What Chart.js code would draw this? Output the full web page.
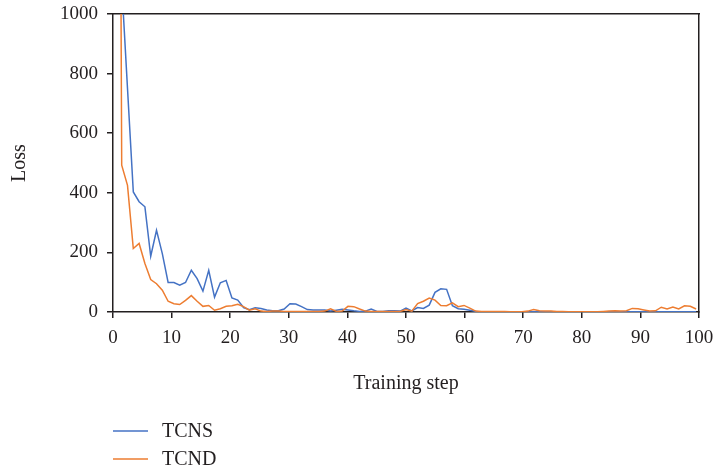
<!DOCTYPE html>
<html>
<head>
<meta charset="utf-8">
<script src="https://cdn.jsdelivr.net/npm/chart.js@4/dist/chart.umd.min.js"></script>
<style>
  html, body { margin: 0; padding: 0; background: #fff; }
  #chart { display: block; }
</style>
</head>
<body>
<canvas id="chart" width="714" height="471"></canvas>
<script>
// training steps (one point per step)
const steps = [
  0, 1, 2, 3, 4, 5, 6, 7, 8, 9,
  10, 11, 12, 13, 14, 15, 16, 17, 18, 19,
  20, 21, 22, 23, 24, 25, 26, 27, 28, 29,
  30, 31, 32, 33, 34, 35, 36, 37, 38, 39,
  40, 41, 42, 43, 44, 45, 46, 47, 48, 49,
  50, 51, 52, 53, 54, 55, 56, 57, 58, 59,
  60, 61, 62, 63, 64, 65, 66, 67, 68, 69,
  70, 71, 72, 73, 74, 75, 76, 77, 78, 79,
  80, 81, 82, 83, 84, 85, 86, 87, 88, 89,
  90, 91, 92, 93, 94, 95, 96, 97, 98, 99,
  100
];

const tcns = [
  1500, 1100, 750, 403, 370, 353, 187, 274, 196, 99,
  99, 90, 99, 140, 112, 70, 140, 50, 98, 106,
  47, 40, 15, 8, 14, 12, 7, 4, 4, 10,
  28, 27, 18, 8, 7, 7, 7, 3, 6, 9,
  7, 4, 2, 3, 10, 2, 2, 4, 4, 3,
  13, 4, 15, 12, 23, 66, 78, 76, 21, 11,
  9, 6, 2, 1, 1, 1, 1, 1, 1, 1,
  1, 1, 1, 1, 1, 1, 1, 1, 1, 1,
  1, 1, 1, 1, 1, 1, 1, 1, 1, 1,
  1, 1, 1, 1, 1, 1, 1, 1, 1, 1,
  1
];

const tcnd = [
  5000, 493, 425, 213, 230, 163, 109, 95, 73, 36,
  28, 25, 39, 55, 36, 19, 22, 6, 11, 19,
  21, 26, 18, 6, 11, 3, 2, 3, 3, 2,
  2, 2, 2, 2, 2, 2, 3, 11, 2, 3,
  19, 18, 10, 3, 2, 2, 2, 2, 2, 2,
  8, 3, 28, 36, 47, 40, 22, 21, 31, 18,
  22, 13, 3, 2, 2, 2, 2, 2, 1, 1,
  1, 3, 8, 4, 3, 3, 2, 2, 1, 1,
  1, 1, 1, 1, 2, 3, 4, 3, 4, 12,
  11, 7, 3, 4, 16, 10, 17, 10, 21, 19,
  10
];

const xTickValues = [0, 10, 20, 30, 40, 50, 60, 70, 80, 90, 100];
const yTickValues = [0, 200, 400, 600, 800, 1000];

const ink = '#231f20';
Chart.defaults.font.family = '"Liberation Serif", "Times New Roman", serif';
Chart.defaults.color = ink;

// legend drawn as a stacked list under the axis title
const stackedLegend = {
  id: 'stackedLegend',
  afterDraw(chart) {
    const ctx = chart.ctx;
    const left = chart.chartArea.left;
    ctx.save();
    ctx.font = '20px "Liberation Serif", serif';
    ctx.textBaseline = 'middle';
    ctx.fillStyle = ink;
    chart.data.datasets.forEach((ds, i) => {
      const y = 431 + i * 28;
      ctx.strokeStyle = ds.borderColor;
      ctx.lineWidth = 1.5;
      ctx.beginPath();
      ctx.moveTo(left, y);
      ctx.lineTo(left + 35, y);
      ctx.stroke();
      ctx.fillText(ds.label, left + 49, y + 1);
    });
    ctx.restore();
  }
};

const axisTicks = (values) => (scale) => {
  scale.ticks = values.map(v => ({ value: v }));
};
const plain = (v) => String(v);
// keep the frame exactly where the padding puts it
const noPad = (s) => {
  s.paddingTop = 0; s.paddingBottom = 0; s.paddingLeft = 0; s.paddingRight = 0;
};

new Chart(document.getElementById('chart'), {
  type: 'line',
  data: {
    labels: steps,
    datasets: [
      {
        label: 'TCNS',
        data: tcns,
        borderColor: '#4472c4',
        borderWidth: 1.5,
        pointRadius: 0,
        tension: 0,
        order: 1
      },
      {
        label: 'TCND',
        data: tcnd,
        borderColor: '#ed7d31',
        borderWidth: 1.5,
        pointRadius: 0,
        tension: 0,
        order: 0
      }
    ]
  },
  options: {
    responsive: false,
    animation: false,
    devicePixelRatio: 1,
    layout: { padding: { top: 14, right: 15, bottom: 70, left: 0 } },
    plugins: {
      legend: { display: false },
      tooltip: { enabled: false }
    },
    scales: {
      x: {
        type: 'category',
        offset: true,
        display: false
      },
      xStep: {
        type: 'linear',
        position: 'bottom',
        min: 0,
        max: 100,
        afterBuildTicks: axisTicks(xTickValues),
        afterFit: (s) => { s.height = 89; noPad(s); },
        ticks: { font: { size: 19 }, padding: 9, maxRotation: 0, callback: plain },
        grid: { drawOnChartArea: false, drawTicks: true, tickLength: 6, color: ink, lineWidth: 1.5 },
        border: { display: true, color: ink, width: 1.5 },
        title: { display: true, text: 'Training step', font: { size: 20 }, padding: { top: 0, bottom: 5 } }
      },
      xTop: {
        type: 'linear',
        position: 'top',
        min: 0,
        max: 100,
        afterFit: (s) => { s.height = 0; noPad(s); },
        ticks: { display: false },
        grid: { display: false, drawTicks: false },
        border: { display: true, color: ink, width: 1.5 }
      },
      y: {
        type: 'linear',
        position: 'left',
        min: 0,
        max: 1000,
        afterBuildTicks: axisTicks(yTickValues),
        afterFit: (s) => { s.width = 113; noPad(s); },
        ticks: { font: { size: 19 }, padding: 9, callback: plain },
        grid: { drawOnChartArea: false, drawTicks: true, tickLength: 6, color: ink, lineWidth: 1.5 },
        border: { display: true, color: ink, width: 1.5 },
        title: { display: true, text: 'Loss', font: { size: 20 }, padding: { top: 8, bottom: 0 } }
      },
      yRight: {
        type: 'linear',
        position: 'right',
        min: 0,
        max: 1000,
        afterFit: (s) => { s.width = 0; noPad(s); },
        ticks: { display: false },
        grid: { display: false, drawTicks: false },
        border: { display: true, color: ink, width: 1.5 }
      }
    }
  },
  plugins: [stackedLegend]
});
</script>
</body>
</html>
